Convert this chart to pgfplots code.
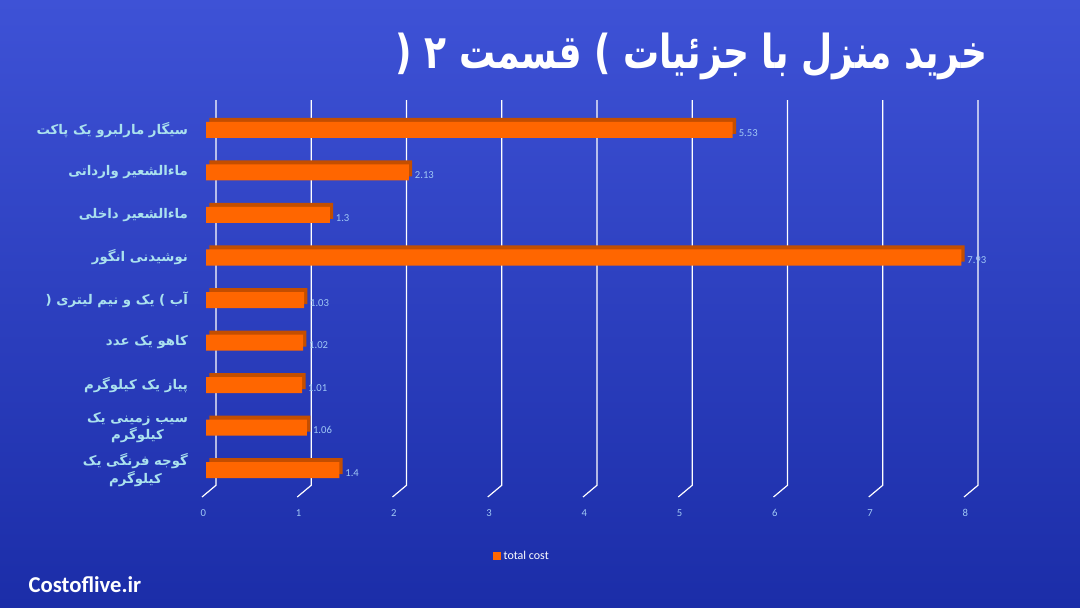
\documentclass[border=0pt]{standalone}
\usepackage{pgfplots}
\pgfplotsset{compat=1.18}
\usepackage{fontspec}
\setmainfont{Carlito}
\newfontfamily\arabicfont[Script=Arabic]{DejaVu Sans}
\TeXXeTstate=1

\definecolor{bgtop}{RGB}{62,82,214}
\definecolor{bgbot}{RGB}{27,45,168}
\definecolor{barfront}{RGB}{255,102,0}
\definecolor{barside}{RGB}{196,78,0}
\definecolor{labelcyan}{RGB}{170,225,238}
\definecolor{valblue}{RGB}{160,200,245}

\begin{document}
\begin{tikzpicture}
% background (1px = 0.75pt)
\shade[top color=bgtop, bottom color=bgbot] (0,0) rectangle (810pt,455.25pt);

\node[font=\arabicfont\bfseries\fontsize{27}{32}\selectfont, text=white, anchor=east]
  at (744pt,413pt) {\scalebox{1}[1.3]{\beginR خرید منزل با جزئیات ) قسمت ۲ (\endR}};

\node[font=\bfseries\fontsize{17}{20}\selectfont, text=white, anchor=west]
  at (18pt,17pt) {Costoflive.ir};

\begin{axis}[
    at={(154.5pt,86.8pt)}, anchor=south west,
    scale only axis,
    width=571.5pt, height=286.9pt,
    xmin=0, xmax=8, ymin=0.5, ymax=9.5,
    xbar, bar width=12pt,
    axis line style={draw=none},
    major tick length=0pt,
    xtick={0,...,8},
    ytick={1,...,9},
    yticklabels={
        {\beginR گوجه فرنگی یک\endR\\\beginR کیلوگرم\endR},
        {\beginR سیب زمینی یک\endR\\\beginR کیلوگرم\endR},
        \beginR پیاز یک کیلوگرم\endR,
        \beginR کاهو  یک عدد\endR,
        \beginR آب ) یک و نیم لیتری (\endR,
        \beginR نوشیدنی انگور\endR,
        \beginR ماءالشعیر داخلی\endR,
        \beginR ماءالشعیر وارداتی\endR,
        \beginR سیگار مارلبرو یک پاکت\endR},
    yticklabel style={font=\arabicfont\bfseries\fontsize{10}{13}\selectfont,
        text=labelcyan, align=center, xshift=-10pt},
    xticklabel style={font=\fontsize{8}{9}\selectfont, text=valblue,
        yshift=-10pt, xshift=-2pt},
    /pgf/number format/assume math mode=true,
    legend style={at={(0.415,-0.169)}, anchor=center, draw=none, fill=none,
        font=\fontsize{9}{10}\selectfont, text=white},
    clip=false,
]

% 3D-style grid lines (wall + floor)
\pgfplotsinvokeforeach{0,...,8}{
  \draw[white, line width=0.9pt]
    ([shift={(7.5pt,6.5pt)}]axis cs:#1,9.5) --
    ([shift={(7.5pt,4.5pt)}]axis cs:#1,0.5) --
    ([shift={(-3pt,-4.3pt)}]axis cs:#1,0.5);
}

% bar depth (top and side faces)
\addplot[bar shift=0pt, fill=barside, draw=none, forget plot,
    xshift=2.5pt, yshift=3pt]
coordinates {(1.4,1) (1.06,2) (1.01,3) (1.02,4) (1.03,5)
             (7.93,6) (1.3,7) (2.13,8) (5.53,9)};

% front faces
\addplot[bar shift=0pt, fill=barfront, draw=none,
    legend image code/.code={\fill[barfront] (0pt,-3pt) rectangle (6pt,3pt);},
    nodes near coords,
    nodes near coords style={font=\fontsize{8}{9}\selectfont, text=valblue,
        anchor=west, xshift=1pt, yshift=-2pt}]
coordinates {(1.4,1) (1.06,2) (1.01,3) (1.02,4) (1.03,5)
             (7.93,6) (1.3,7) (2.13,8) (5.53,9)};
\addlegendentry{total cost}

\end{axis}
\end{tikzpicture}
\end{document}
